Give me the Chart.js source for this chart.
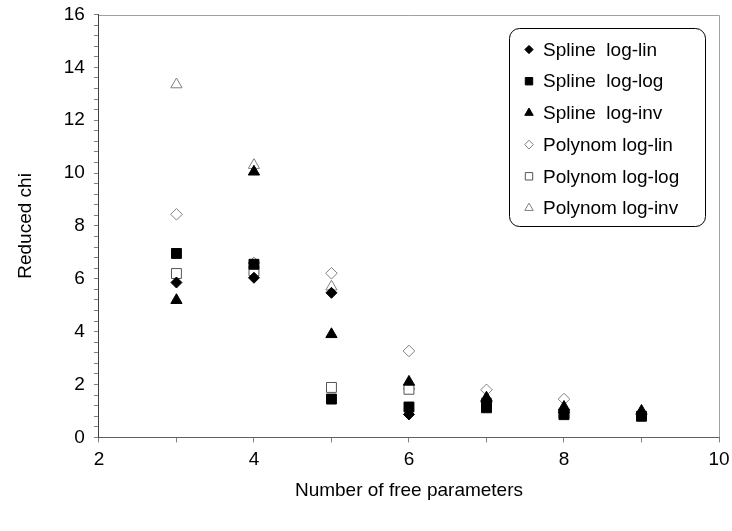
<!DOCTYPE html>
<html>
<head>
<meta charset="utf-8">
<script src="https://cdn.jsdelivr.net/npm/chart.js@4.4.1/dist/chart.umd.min.js"></script>
<style>
  html, body { margin: 0; padding: 0; background: #fff; }
  #wrap { width: 732px; height: 531px; }
</style>
</head>
<body>
<div id="wrap"><canvas id="myChart"></canvas></div>
<script>
// number of free parameters
let nParams = [3, 4, 5, 6, 7, 8, 9];

let splineLogLin = [5.86, 6.04, 5.47, 0.87, 1.35, 0.95, 0.85];
let splineLogLog = [6.96, 6.55, 1.45, 1.15, 1.12, 0.86, 0.8];
let splineLogInv = [5.19, 10.05, 3.9, 2.1, 1.5, 1.15, 1.0];
let polyLogLin = [8.44, 6.6, 6.21, 3.27, 1.8, 1.45, null];
let polyLogLog = [6.2, 6.3, 1.89, 1.82, 1.3, 0.9, null];
let polyLogInv = [13.35, 10.3, 5.7, 1.95, 1.45, 1.05, null];

let xTicks = [2, 4, 6, 8, 10];
let yTicks = [0, 2, 4, 6, 8, 10, 12, 14, 16];

const FONT = 'Liberation Sans, Arial, sans-serif';

function toPoints(values) {
    return nParams.map((x, i) => ({x: x, y: values[i]}));
}

function series(label, values, style, radius, filled, edge) {
    return {
        label: label,
        data: toPoints(values),
        pointStyle: style,
        pointRadius: radius,
        pointHoverRadius: radius,
        backgroundColor: filled ? '#000' : '#fff',
        borderColor: filled ? '#000' : edge,
        borderWidth: 1,
        legendRadius: radius * 0.75
    };
}

// box round the plot (top and right edges)
const plotFrame = {
    id: 'plotFrame',
    beforeDatasetsDraw(chart) {
        const a = chart.chartArea;
        const ctx = chart.ctx;
        ctx.save();
        ctx.strokeStyle = '#a0a0a0';
        ctx.lineWidth = 1;
        ctx.beginPath();
        ctx.moveTo(a.left, Math.round(a.top) + 0.5);
        ctx.lineTo(Math.round(a.right) + 0.5, Math.round(a.top) + 0.5);
        ctx.lineTo(Math.round(a.right) + 0.5, a.bottom);
        ctx.stroke();
        ctx.restore();
    }
};

// legend drawn in a rounded box inside the plot
const boxLegend = {
    id: 'boxLegend',
    afterDraw(chart) {
        const ctx = chart.ctx;
        const left = 509, top = 28, width = 196, height = 198, r = 10;
        ctx.save();
        ctx.fillStyle = '#fff';
        ctx.strokeStyle = '#000';
        ctx.lineWidth = 1;
        ctx.beginPath();
        ctx.roundRect(left + 0.5, top + 0.5, width, height, r);
        ctx.fill();
        ctx.stroke();
        ctx.font = '19px ' + FONT;
        ctx.textBaseline = 'middle';
        ctx.textAlign = 'left';
        chart.data.datasets.forEach((ds, i) => {
            const y = 49.5 + i * 31.7;
            ctx.fillStyle = ds.backgroundColor;
            ctx.strokeStyle = ds.borderColor;
            ctx.lineWidth = 1;
            Chart.helpers.drawPoint(ctx, {pointStyle: ds.pointStyle, radius: ds.legendRadius, borderWidth: 1}, 529, y);
            ctx.fillStyle = '#000';
            ctx.fillText(ds.label, 543, y + 1);
        });
        ctx.restore();
    }
};

let ctx = document.getElementById('myChart').getContext('2d');
let chiChart = new Chart(ctx, {
    type: 'scatter',
    data: {
        datasets: [
            series('Spline  log-lin', splineLogLin, 'rectRot', 5.5, true),
            series('Spline  log-log', splineLogLog, 'rect', 7, true),
            series('Spline  log-inv', splineLogInv, 'triangle', 6.5, true),
            series('Polynom log-lin', polyLogLin, 'rectRot', 5.8, false, '#808080'),
            series('Polynom log-log', polyLogLog, 'rect', 7, false, '#555'),
            series('Polynom log-inv', polyLogInv, 'triangle', 6.5, false, '#808080')
        ]
    },
    options: {
        responsive: true,
        maintainAspectRatio: false,
        animation: false,
        layout: { padding: { top: 14.5, right: 13, bottom: 17.5, left: 0 } },
        plugins: {
            legend: { display: false },
            tooltip: { enabled: false }
        },
        scales: {
            x: {
                type: 'linear',
                min: 2,
                max: 10,
                afterFit: (s) => { s.paddingRight = 0; s.paddingLeft = 0; },
                border: { color: '#606060', width: 1 },
                grid: { drawOnChartArea: false, drawTicks: true, tickLength: 5, color: '#808080' },
                ticks: {
                    stepSize: 1,
                    autoSkip: false,
                    maxRotation: 0,
                    padding: 6,
                    color: '#000',
                    font: { family: FONT, size: 19 },
                    callback: (v) => xTicks.includes(v) ? String(v) : ''
                },
                title: {
                    display: true,
                    text: 'Number of free parameters',
                    color: '#000',
                    font: { family: FONT, size: 19 },
                    padding: { top: 2, bottom: 11.5 }
                }
            },
            y: {
                type: 'linear',
                min: 0,
                max: 16,
                afterFit: (s) => { s.paddingTop = 0; s.paddingBottom = 0; },
                border: { color: '#404040', width: 1 },
                grid: { drawOnChartArea: false, drawTicks: true, tickLength: 5, color: '#808080' },
                ticks: {
                    stepSize: 0.4,
                    autoSkip: false,
                    padding: 9,
                    color: '#000',
                    font: { family: FONT, size: 19 },
                    callback: (v) => {
                        let t = yTicks.find(k => Math.abs(k - v) < 1e-6);
                        return t === undefined ? '' : String(t);
                    }
                },
                title: {
                    display: true,
                    text: 'Reduced chi',
                    color: '#000',
                    font: { family: FONT, size: 19 },
                    padding: { top: 14, bottom: 18 }
                }
            }
        }
    },
    plugins: [plotFrame, boxLegend]
});
</script>
</body>
</html>
